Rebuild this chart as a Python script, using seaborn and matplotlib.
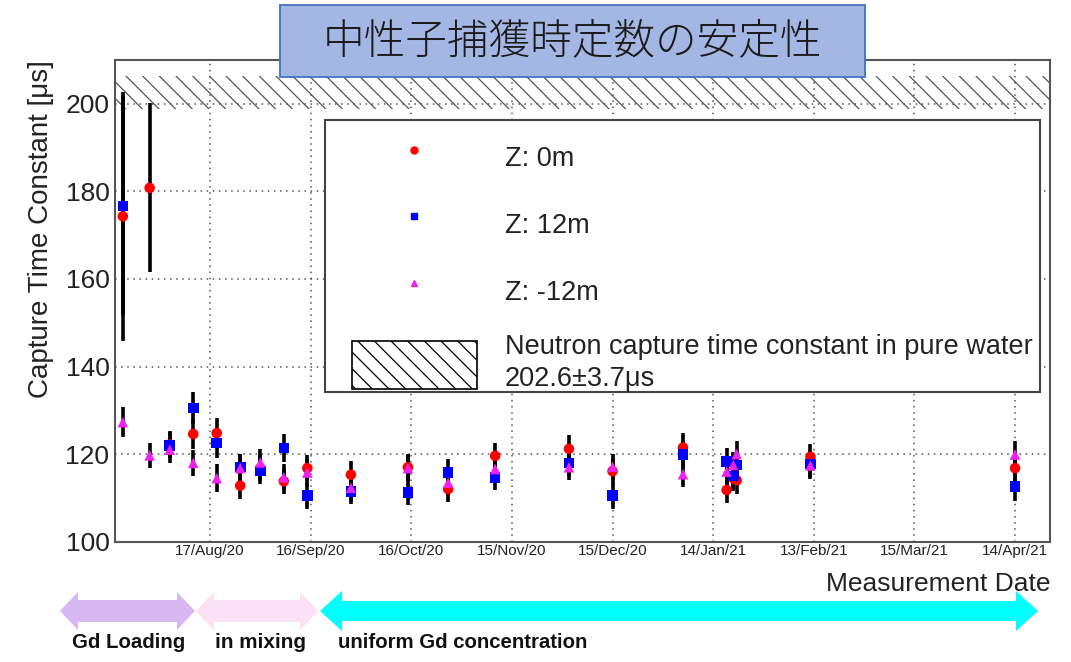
# neutron capture time constant stability plot (recreated)

import numpy as np
import pandas as pd
import matplotlib
matplotlib.use('Agg')
import matplotlib.pyplot as plt
import matplotlib.dates as mdates
import matplotlib.ticker as mticker
import matplotlib.font_manager as fm
from matplotlib.patches import Rectangle, Patch, Polygon
from matplotlib.lines import Line2D
import seaborn as sns

# measurement dates (one run group per date)
dates = pd.to_datetime([
    '2020-07-22', '2020-07-30', '2020-08-05', '2020-08-12', '2020-08-19',
    '2020-08-26', '2020-09-01', '2020-09-08', '2020-09-15', '2020-09-28',
    '2020-10-15', '2020-10-27', '2020-11-10', '2020-12-02', '2020-12-15',
    '2021-01-05', '2021-01-18', '2021-01-20', '2021-01-21', '2021-02-12',
    '2021-04-14',
])

# capture time constant [us] per source position
tau_z0 = [174.3, 180.8, 122.2, 124.6, 124.8, 112.8, 116.8, 113.8, 116.8, 115.3,
          117.0, 112.0, 119.6, 121.2, 116.1, 121.5, 111.8, 114.5, 114.0, 119.4, 116.8]
err_z0 = [28.4, 19.3, 3.0, 3.4, 3.4, 3.0, 3.0, 3.0, 3.0, 3.2,
          3.0, 3.0, 3.0, 3.2, 3.0, 3.4, 3.0, 3.0, 3.0, 3.0, 3.2]

tau_z12 = [176.7, np.nan, 122.0, 130.5, 122.5, 117.1, 116.1, 121.4, 110.5, 111.5,
           111.3, 115.8, 114.7, 118.0, 110.5, 119.9, 118.3, 115.0, 117.5, 117.7, 112.6]
err_z12 = [25.0, np.nan, 3.0, 3.6, 3.4, 3.0, 3.0, 3.2, 3.0, 3.0,
           3.0, 3.0, 3.0, 3.0, 3.0, 3.2, 3.0, 3.0, 3.0, 3.0, 3.2]

tau_zm12 = [127.3, 119.7, 121.0, 118.0, 114.5, 116.8, 118.1, 114.7, 115.8, 112.3,
            116.8, 113.5, 116.6, 117.0, 117.1, 115.4, 116.0, 117.5, 120.0, 117.4, 119.9]
err_zm12 = [3.4, 2.8, 3.0, 3.0, 3.2, 3.0, 3.0, 3.0, 3.0, 3.0,
            3.0, 3.0, 3.0, 3.0, 3.0, 3.0, 3.0, 3.0, 3.0, 3.0, 3.2]

series_names = ['Z: 0m', 'Z: 12m', 'Z: -12m']

# pure water reference
water_tau = 202.6
water_err = 3.7

# axis ticks
tick_dates = pd.date_range('2020-08-17', periods=9, freq='30D')
minor_dates = pd.date_range('2020-07-28', '2021-04-24', freq='10D')
x_range = (pd.Timestamp('2020-07-19 16:00'), pd.Timestamp('2021-04-24 10:00'))

phase_labels = ['Gd Loading', 'in mixing', 'uniform Gd concentration']

sns.set_theme(style='white')
plt.rcParams['font.family'] = ['Liberation Sans', 'DejaVu Sans']
plt.rcParams['hatch.linewidth'] = 0.9

names = {f.name for f in fm.fontManager.ttflist}
narrow = 'Liberation Sans Narrow' if 'Liberation Sans Narrow' in names else 'Liberation Sans'

W, H = 1071, 662
fig = plt.figure(figsize=(W / 100, H / 100), dpi=100)
fig.patch.set_facecolor('white')
ax = fig.add_axes([115 / W, 1 - 541.7 / H, (1050 - 115) / W, (541.7 - 60) / H])

colors = {'Z: 0m': '#ff0000', 'Z: 12m': '#0000ff', 'Z: -12m': '#ee22ee'}
markers = {'Z: 0m': 'o', 'Z: 12m': 's', 'Z: -12m': '^'}

rows = []
for name, vals, errs in zip(series_names, [tau_z0, tau_z12, tau_zm12], [err_z0, err_z12, err_zm12]):
    for d, v, e in zip(dates, vals, errs):
        rows.append({'date': d, 'tau': v, 'err': e, 'series': name})
data = pd.DataFrame(rows).dropna()

# error bars first, markers on top
for name in series_names:
    sub = data[data['series'] == name]
    ax.errorbar(sub['date'], sub['tau'], yerr=sub['err'], fmt='none',
                ecolor='black', elinewidth=2.6, capsize=0, zorder=3)

sns.scatterplot(data=data, x='date', y='tau', hue='series', style='series',
                palette=colors, markers=markers, s=58, linewidth=0,
                legend=False, ax=ax, zorder=4)

# pure water band
ax.axhspan(water_tau - water_err, water_tau + water_err, facecolor='none',
           edgecolor='#555555', hatch='\\\\', linewidth=0, zorder=2)

ax.set_xlim(*x_range)
ax.set_ylim(100, 210)
ax.xaxis.set_major_locator(mticker.FixedLocator(mdates.date2num(tick_dates)))
ax.xaxis.set_minor_locator(mticker.FixedLocator(mdates.date2num(minor_dates)))
ax.xaxis.set_major_formatter(mdates.DateFormatter('%d/%b/%y'))
ax.yaxis.set_major_locator(mticker.MultipleLocator(20))
ax.yaxis.set_minor_locator(mticker.MultipleLocator(5))

ax.tick_params(axis='x', which='major', direction='in', length=11, width=1.2,
               labelsize=11, pad=2, colors='#222222')
ax.tick_params(axis='x', which='minor', direction='in', length=5, width=1.2)
ax.tick_params(axis='y', which='major', direction='in', length=19, width=1.2,
               labelsize=19, pad=4, colors='#222222')
ax.tick_params(axis='y', which='minor', direction='in', length=9.5, width=1.2)

ax.grid(True, which='major', color='#555555', linestyle=(0, (1, 3)), linewidth=1.1)
ax.set_axisbelow(True)
for sp in ax.spines.values():
    sp.set_color('#555555')
    sp.set_linewidth(1.5)

ax.set_xlabel('Measurement Date', loc='right', fontsize=19, labelpad=10, color='#222222')
ax.set_ylabel('Capture Time Constant [μs]', loc='top', fontsize=20, labelpad=8, color='#222222')

# legend with its own frame
ax.add_patch(Rectangle((0.2246, 0.3108), 0.7647, 0.5646, transform=ax.transAxes,
                       facecolor='white', edgecolor='#444444', linewidth=1.5, zorder=6))
handles = [Line2D([], [], marker=markers[n], linestyle='none', color=colors[n], markersize=5)
           for n in series_names]
handles.append(Patch(facecolor='white', edgecolor='black', hatch='\\\\', linewidth=1.2))
labels = series_names + ['Neutron capture time constant in pure water\n%.1f±%.1fμs' % (water_tau, water_err)]
leg = ax.legend(handles, labels, loc='upper left', bbox_to_anchor=(0.2535, 0.8475),
                frameon=False, fontsize=19.5, borderpad=0, borderaxespad=0,
                handlelength=4.6, handleheight=2.32, handletextpad=1.03, labelspacing=0.72)
leg.set_zorder(7)
for t in leg.get_texts():
    t.set_color('#222222')
leg.get_texts()[-1].set_linespacing(1.3)

# title box
fig.add_artist(Rectangle((280 / W, 1 - 77 / H), 585 / W, 72 / H, transform=fig.transFigure,
                         facecolor='#a4b7e4', edgecolor='#4472c4', linewidth=1.3, zorder=8))
fig.text(572.5 / W, 1 - 41 / H, '中性子捕獲時定数の安定性', ha='center', va='center',
         fontsize=30, fontweight='light', color='#1a1a1a',
         family=['Noto Sans CJK JP', 'DejaVu Sans'], zorder=9)


# phase arrows under the axis
def double_arrow(x0, x1, yc, sh, hh, hl, color):
    pts = [(x0, yc), (x0 + hl, yc - hh), (x0 + hl, yc - sh), (x1 - hl, yc - sh),
           (x1 - hl, yc - hh), (x1, yc), (x1 - hl, yc + hh), (x1 - hl, yc + sh),
           (x0 + hl, yc + sh), (x0 + hl, yc + hh)]
    pts = [(x / W, 1 - y / H) for x, y in pts]
    fig.add_artist(Polygon(pts, closed=True, transform=fig.transFigure,
                           facecolor=color, edgecolor='none', zorder=8))


double_arrow(60, 195, 611, 11, 19, 18, '#d7b8f3')
double_arrow(196, 318, 611, 11, 19, 18, '#fce0f6')
double_arrow(320, 1038, 611, 10, 20, 22, '#00ffff')

renderer = fig.canvas.get_renderer()
for lab, x0, width in zip(phase_labels, [72, 215, 338], [113, 90, 250]):
    t = fig.text(x0 / W, 1 - 643 / H, lab, ha='left', va='center', fontsize=20,
                 fontweight='bold', color='#111111', family=narrow, zorder=9)
    w = t.get_window_extent(renderer).width
    t.set_fontsize(20 * width / w)

fig.savefig('out.png', dpi=100)
